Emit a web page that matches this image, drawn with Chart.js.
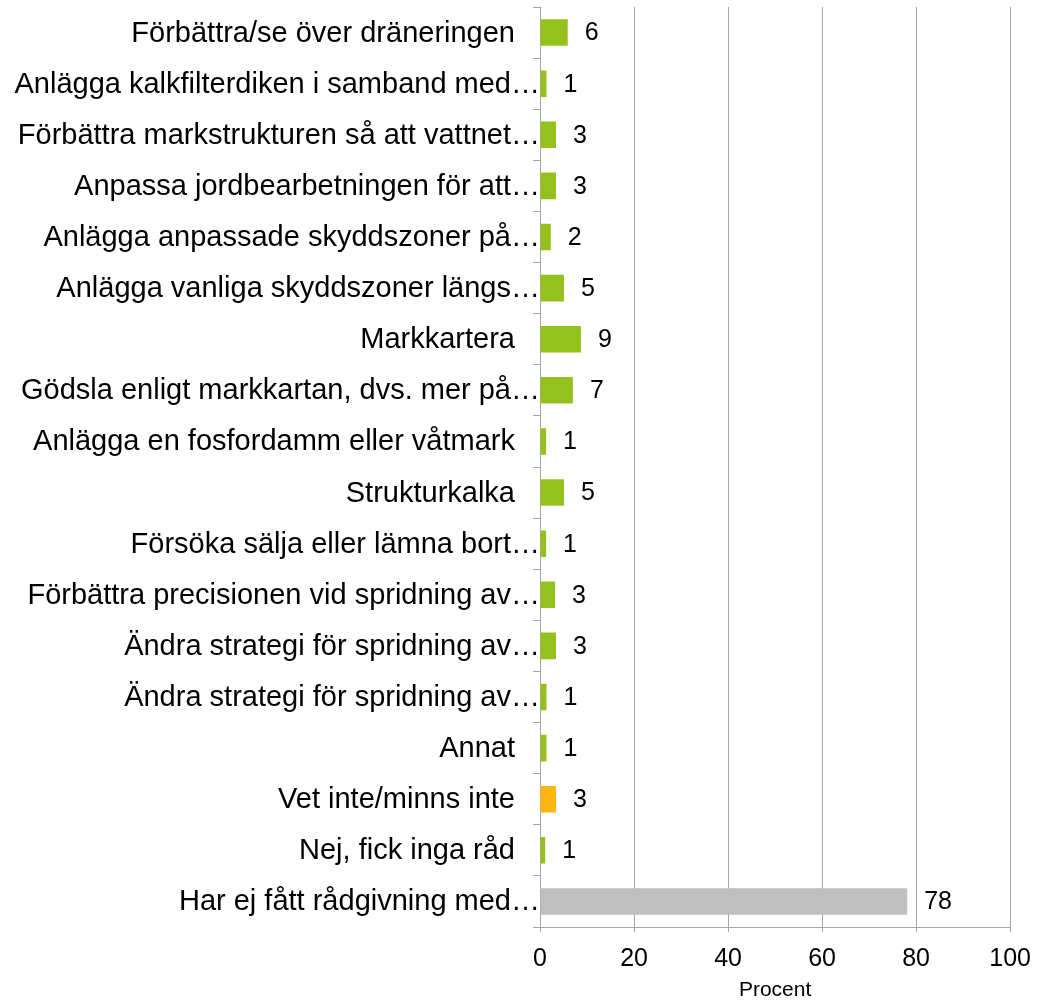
<!DOCTYPE html>
<html>
<head>
<meta charset="utf-8">
<script src="https://cdn.jsdelivr.net/npm/chart.js@4/dist/chart.umd.min.js"></script>
<style>
  body { margin: 0; background: #fff; }
  #wrap { width: 1043px; height: 1003px; }
</style>
</head>
<body>
<div id="wrap"><canvas id="chart"></canvas></div>
<script>
const categories = [
  'Förbättra/se över dräneringen',
  'Anlägga kalkfilterdiken i samband med…',
  'Förbättra markstrukturen så att vattnet…',
  'Anpassa jordbearbetningen för att…',
  'Anlägga anpassade skyddszoner på…',
  'Anlägga vanliga skyddszoner längs…',
  'Markkartera',
  'Gödsla enligt markkartan, dvs. mer på…',
  'Anlägga en fosfordamm eller våtmark',
  'Strukturkalka',
  'Försöka sälja eller lämna bort…',
  'Förbättra precisionen vid spridning av…',
  'Ändra strategi för spridning av…',
  'Ändra strategi för spridning av…',
  'Annat',
  'Vet inte/minns inte',
  'Nej, fick inga råd',
  'Har ej fått rådgivning med…'
];
const values = [5.9, 1.4, 3.4, 3.4, 2.3, 5.1, 8.7, 7.0, 1.3, 5.1, 1.3, 3.2, 3.4, 1.4, 1.4, 3.4, 1.1, 78.1];
const barColors = [
  '#95c11f', '#95c11f', '#95c11f', '#95c11f', '#95c11f', '#95c11f',
  '#95c11f', '#95c11f', '#95c11f', '#95c11f', '#95c11f', '#95c11f',
  '#95c11f', '#95c11f', '#95c11f', '#fdb515', '#95c11f', '#bfbfbf'
];
const xTicks = [0, 20, 40, 60, 80, 100];

const FONT = '"Liberation Sans", Arial, sans-serif';

// category labels: truncated ones run up to the axis line, like the original
const categoryLabels = {
  id: 'categoryLabels',
  afterDraw(chart) {
    const ctx = chart.ctx;
    const y = chart.scales.y;
    ctx.save();
    ctx.font = '29px ' + FONT;
    ctx.fillStyle = '#000';
    ctx.textAlign = 'right';
    ctx.textBaseline = 'middle';
    categories.forEach(function (lab, i) {
      const right = lab.endsWith('…') ? y.right : y.right - 25;
      ctx.fillText(lab, right, y.getPixelForTick(i) + 1);
    });
    ctx.restore();
  }
};

// draws the rounded value to the right of each bar, on a white box
const valueLabels = {
  id: 'valueLabels',
  afterDatasetsDraw(chart) {
    const ctx = chart.ctx;
    const meta = chart.getDatasetMeta(0);
    ctx.save();
    ctx.font = '25px ' + FONT;
    ctx.textBaseline = 'middle';
    ctx.textAlign = 'left';
    meta.data.forEach(function (bar, i) {
      const txt = String(Math.round(values[i]));
      const w = ctx.measureText(txt).width;
      const x = bar.x + 17;
      ctx.fillStyle = '#fff';
      ctx.fillRect(x - 7, bar.y - 16, w + 14, 32);
      ctx.fillStyle = '#000';
      ctx.fillText(txt, x, bar.y + 1);
    });
    ctx.restore();
  }
};

new Chart(document.getElementById('chart'), {
  type: 'bar',
  data: {
    labels: categories,
    datasets: [{
      data: values,
      backgroundColor: barColors,
      categoryPercentage: 1,
      barPercentage: 0.52
    }]
  },
  options: {
    indexAxis: 'y',
    responsive: true,
    maintainAspectRatio: false,
    animation: false,
    layout: { padding: { top: 7, right: 32, left: 0, bottom: 0 } },
    plugins: {
      legend: { display: false },
      tooltip: { enabled: false }
    },
    scales: {
      x: {
        min: 0,
        max: 100,
        afterBuildTicks: function (axis) {
          axis.ticks = xTicks.map(v => ({ value: v }));
        },
        afterFit: function (axis) { axis.height = 76; },
        grid: { color: '#a6a6a6', lineWidth: 1, tickLength: 5 },
        border: { color: '#a6a6a6' },
        ticks: {
          color: '#000',
          padding: 12,
          maxRotation: 0,
          font: { family: FONT, size: 25 }
        },
        title: {
          display: true,
          text: 'Procent',
          color: '#000',
          padding: { top: 4, bottom: 0 },
          font: { family: FONT, size: 21 }
        }
      },
      y: {
        afterFit: function (axis) {
          axis.width = 540;
          axis.paddingTop = 0;
          axis.paddingBottom = 0;
        },
        grid: { drawOnChartArea: false, color: '#a6a6a6', tickLength: 7, offset: true },
        border: { color: '#a6a6a6' },
        ticks: { display: false, autoSkip: false }
      }
    }
  },
  plugins: [valueLabels, categoryLabels]
});
</script>
</body>
</html>
